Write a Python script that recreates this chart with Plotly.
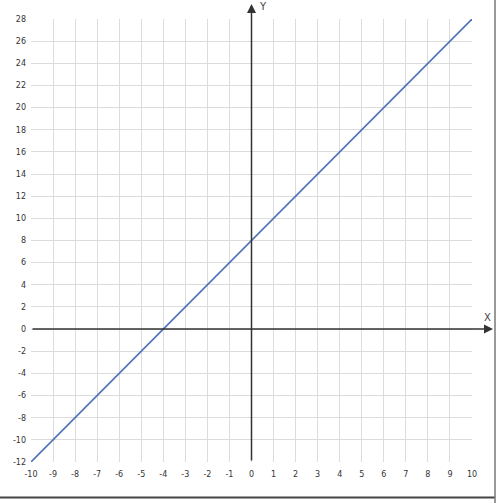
import plotly.graph_objects as go

# Data: line y = 2x + 8 from x = -10 to 10
x_vals = [-10, 10]
y_vals = [-12, 28]

x_ticks = list(range(-10, 11))
y_ticks = list(range(-12, 29, 2))

W, H = 500, 503
# plot area in window pixels
PX0, PX1 = 31, 472
PY0, PY1 = 19, 462
L, R = PX0, W - PX1
T, B = PY0, H - PY1
pw = PX1 - PX0
ph = PY1 - PY0


def paper_x(px):
    return (px - PX0) / pw


def paper_y(py):
    return (PY1 - py) / ph


fig = go.Figure()
fig.add_trace(go.Scatter(x=x_vals, y=y_vals, mode="lines",
                         line=dict(color="#4f72b8", width=1.6),
                         hoverinfo="skip", showlegend=False))

axis_common = dict(showgrid=True, gridcolor="#dcdcdc", gridwidth=1,
                   zeroline=False, showline=False, ticks="",
                   tickfont=dict(family="DejaVu Sans", size=8, color="#333"),
                   fixedrange=True)

fig.update_layout(
    width=W, height=H,
    margin=dict(l=L, r=R, t=T, b=B, pad=0),
    paper_bgcolor="white", plot_bgcolor="white",
    xaxis=dict(range=[-10, 10], tickvals=x_ticks, ticktext=[str(v) for v in x_ticks],
               ticklabelstandoff=6, **axis_common),
    yaxis=dict(range=[-12, 28], tickvals=y_ticks, ticktext=[str(v) for v in y_ticks],
               ticklabelstandoff=4, **axis_common),
    showlegend=False,
)

# Y axis with arrow (tip near the top, tail at bottom of plot)
tip_y = 4
fig.add_annotation(x=0, xref="x", y=paper_y(tip_y), yref="paper",
                   ax=0, ay=PY1 - tip_y, axref="pixel", ayref="pixel",
                   showarrow=True, arrowhead=2, arrowsize=1.2, arrowwidth=1.5,
                   arrowcolor="#333", text="")
# X axis with arrow (tip at window x=493, tail at left of plot)
fig.add_annotation(x=paper_x(493), xref="paper", y=0, yref="y",
                   ax=-(493 - PX0), ay=0, axref="pixel", ayref="pixel",
                   showarrow=True, arrowhead=2, arrowsize=1.2, arrowwidth=1.5,
                   arrowcolor="#333", text="")

# Axis labels
fig.add_annotation(x=paper_x(487), xref="paper", y=paper_y(317), yref="paper",
                   text="X", showarrow=False, font=dict(family="DejaVu Sans", size=10, color="#444"),
                   xanchor="center", yanchor="middle")
fig.add_annotation(x=paper_x(263), xref="paper", y=paper_y(0), yref="paper",
                   text="Y", showarrow=False, font=dict(family="DejaVu Sans", size=10, color="#444"),
                   xanchor="center", yanchor="top", borderpad=0)

# Frame lines (bottom and right)
fig.add_shape(type="line", xref="paper", yref="paper",
              x0=paper_x(0), x1=paper_x(495), y0=paper_y(497.5), y1=paper_y(497.5),
              line=dict(color="#444", width=2))
fig.add_shape(type="line", xref="paper", yref="paper",
              x0=paper_x(495), x1=paper_x(495), y0=paper_y(503), y1=paper_y(0),
              line=dict(color="#777", width=1.5))

fig.write_html(
    "out.html",
    config={"displayModeBar": False, "staticPlot": True},
    post_script="document.body.style.margin='0';document.body.style.overflow='hidden';",
)
